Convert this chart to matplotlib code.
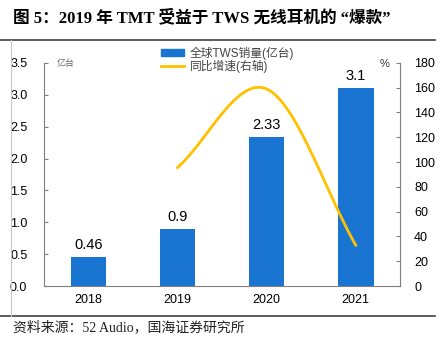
import numpy as np
import matplotlib.pyplot as plt
from matplotlib.lines import Line2D
from matplotlib.patches import Patch

plt.rcParams['font.family'] = ['Liberation Sans', 'Noto Sans CJK SC', 'DejaVu Sans']

years = ['2018', '2019', '2020', '2021']
sales = [0.46, 0.9, 2.33, 3.1]          # 全球TWS销量(亿台)
growth_years = [1, 2, 3]                # index into years
growth = [95.6, 158.9, 33.0]            # 同比增速(%)

BLUE = '#1a75d2'
GOLD = '#ffc000'


def catmull_rom(xs, ys, n=60):
    # smooth line through the points, like the spreadsheet "smoothed line"
    xs = np.asarray(xs, float)
    ys = np.asarray(ys, float)
    px = np.concatenate([[2 * xs[0] - xs[1]], xs, [2 * xs[-1] - xs[-2]]])
    py = np.concatenate([[2 * ys[0] - ys[1]], ys, [2 * ys[-1] - ys[-2]]])
    outx, outy = [], []
    for i in range(1, len(px) - 2):
        t = np.linspace(0, 1, n)
        for p, out in ((px, outx), (py, outy)):
            p0, p1, p2, p3 = p[i - 1], p[i], p[i + 1], p[i + 2]
            out.append(0.5 * ((2 * p1) + (-p0 + p2) * t
                              + (2 * p0 - 5 * p1 + 4 * p2 - p3) * t ** 2
                              + (-p0 + 3 * p1 - 3 * p2 + p3) * t ** 3))
    return np.concatenate(outx), np.concatenate(outy)


fig = plt.figure(figsize=(4.47, 3.51), dpi=100)
ax = fig.add_axes([0.0984, 0.185, 0.797, 0.636])
ax2 = ax.twinx()

x = np.arange(len(years))
ax.bar(x, sales, width=0.4, color=BLUE, zorder=2)
for xi, v in zip(x, sales):
    ax.text(xi, v + 0.08, f'{v:g}', ha='center', va='bottom', fontsize=10.5)

sx, sy = catmull_rom(growth_years, growth)
ax2.plot(sx, sy, color=GOLD, lw=2)

ax.set_xlim(-0.5, 3.5)
ax.set_ylim(0, 3.5)
ax.set_yticks(np.arange(0, 3.51, 0.5))
ax.set_yticklabels([f'{v:.1f}' for v in np.arange(0, 3.51, 0.5)])
ax2.set_ylim(0, 180)
ax2.set_yticks(range(0, 181, 20))
ax.set_xticks(x)
ax.set_xticklabels(years)

for a in (ax, ax2):
    a.spines['top'].set_visible(False)
    for s in a.spines.values():
        s.set_color('#808080')
        s.set_linewidth(0.8)
ax.spines['right'].set_visible(False)
ax2.spines['left'].set_visible(False)
ax2.spines['bottom'].set_visible(False)
ax.tick_params(axis='y', direction='in', length=3, color='#808080', pad=12, labelsize=9)
ax.tick_params(axis='x', length=0, pad=6, labelsize=9)
ax2.tick_params(axis='y', direction='in', length=3, color='#808080', pad=10, labelsize=9)

ax.text(0.06, 0.995, '亿台', transform=ax.transAxes, fontsize=6.5, color='#666666',
        ha='center', va='center')
ax2.text(0.955, 0.995, '%', transform=ax.transAxes, fontsize=8, color='#333333',
         ha='center', va='center')

handles = [Patch(color=BLUE), Line2D([0], [0], color=GOLD, lw=2)]
fig.legend(handles, ['全球TWS销量(亿台)', '同比增速(右轴)'],
           loc='upper left', bbox_to_anchor=(0.348, 0.885), frameon=False,
           fontsize=8.5, labelcolor='#444444', handlelength=1.9,
           handleheight=0.5, labelspacing=0.0, handletextpad=0.5,
           borderpad=0)

# report frame lines
fig.add_artist(Line2D([0, 0.973], [0.886, 0.886], color='#404040', lw=1.2))
fig.add_artist(Line2D([0, 0.973], [0.099, 0.099], color='#404040', lw=1.2))
fig.add_artist(Line2D([0.025, 0.025], [0.099, 0.886], color='#c8c8c8', lw=0.8))

fig.text(0.03, 0.948, '图 5：2019 年 TMT 受益于 TWS 无线耳机的 “爆款”',
         fontsize=12, fontweight='bold', va='center',
         family=['Liberation Serif', 'Noto Sans CJK SC'])
fig.text(0.03, 0.068, '资料来源：52 Audio，国海证券研究所', fontsize=10, va='center',
         color='#222222', family=['Liberation Serif', 'Noto Sans CJK SC'])

fig.savefig('out.png', dpi=100)
